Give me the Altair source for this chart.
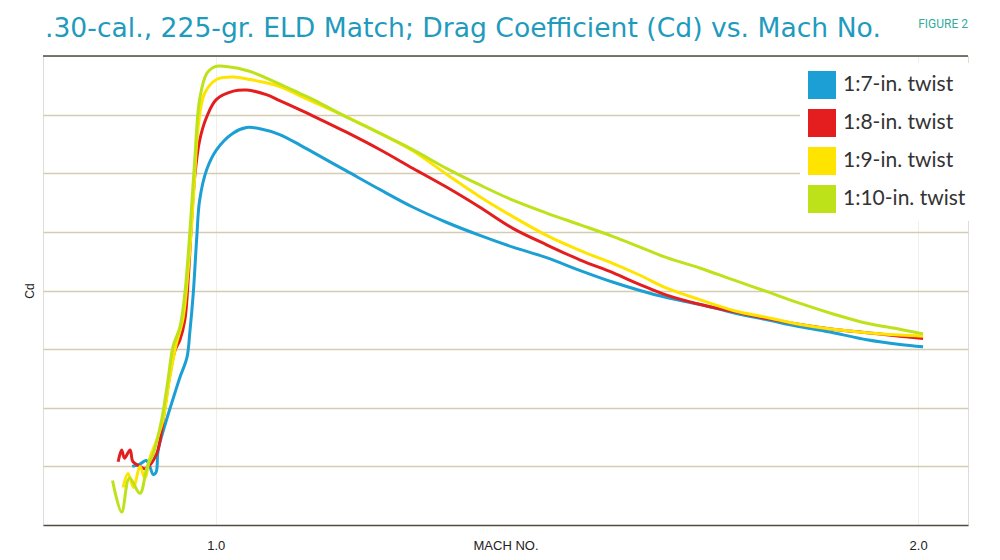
import altair as alt
import pandas as pd

TITLE = ".30-cal., 225-gr. ELD Match; Drag Coefficient (Cd) vs. Mach No."
FIGURE = "FIGURE 2"

SERIES = ["1:7-in. twist", "1:8-in. twist", "1:9-in. twist", "1:10-in. twist"]
COLORS = ["#1b9fd4", "#e41e1e", "#ffe400", "#bde21a"]

MACH_7 = [0.881, 0.892, 0.901, 0.906, 0.911, 0.915, 0.918, 0.930, 0.942, 0.949, 0.959, 0.963, 0.968, 0.973,
          0.977, 0.987, 1.001, 1.024, 1.044, 1.063, 1.091, 1.120, 1.138, 1.186, 1.234, 1.281, 1.329, 1.376,
          1.423, 1.471, 1.519, 1.566, 1.604, 1.642, 1.690, 1.737, 1.785, 1.832, 1.879, 1.927, 1.974, 2.007]
CD_7 = [0.150, 0.152, 0.155, 0.150, 0.143, 0.145, 0.164, 0.190, 0.213, 0.226, 0.243, 0.264, 0.298, 0.346,
        0.377, 0.403, 0.420, 0.434, 0.439, 0.438, 0.433, 0.424, 0.418, 0.402, 0.386, 0.371, 0.358, 0.347,
        0.337, 0.328, 0.317, 0.307, 0.300, 0.294, 0.288, 0.281, 0.275, 0.269, 0.264, 0.258, 0.254, 0.252]

MACH_8 = [0.861, 0.866, 0.870, 0.878, 0.882, 0.892, 0.899, 0.906, 0.916, 0.920, 0.927, 0.934, 0.942, 0.949,
          0.956, 0.961, 0.965, 0.970, 0.977, 0.987, 1.001, 1.025, 1.044, 1.072, 1.091, 1.120, 1.138, 1.186,
          1.234, 1.281, 1.329, 1.376, 1.423, 1.471, 1.519, 1.566, 1.604, 1.642, 1.690, 1.737, 1.785, 1.832,
          1.879, 1.927, 1.974, 2.007]
CD_8 = [0.154, 0.164, 0.157, 0.164, 0.154, 0.150, 0.148, 0.151, 0.161, 0.170, 0.198, 0.226, 0.249, 0.258,
        0.275, 0.312, 0.354, 0.397, 0.428, 0.448, 0.463, 0.470, 0.471, 0.467, 0.462, 0.454, 0.449, 0.435,
        0.420, 0.404, 0.388, 0.371, 0.353, 0.339, 0.326, 0.315, 0.305, 0.296, 0.288, 0.282, 0.276, 0.271,
        0.267, 0.264, 0.261, 0.259]

MACH_9 = [0.868, 0.875, 0.883, 0.892, 0.899, 0.906, 0.915, 0.925, 0.934, 0.944, 0.953, 0.961, 0.968, 0.975,
          0.984, 1.001, 1.025, 1.048, 1.091, 1.120, 1.138, 1.186, 1.234, 1.281, 1.329, 1.376, 1.423, 1.471,
          1.519, 1.566, 1.604, 1.642, 1.690, 1.737, 1.785, 1.832, 1.879, 1.927, 1.974, 2.007]
CD_9 = [0.132, 0.144, 0.132, 0.150, 0.140, 0.157, 0.171, 0.190, 0.224, 0.255, 0.275, 0.320, 0.377, 0.440,
        0.468, 0.480, 0.482, 0.480, 0.474, 0.466, 0.461, 0.448, 0.434, 0.419, 0.399, 0.380, 0.363, 0.347,
        0.334, 0.323, 0.313, 0.302, 0.292, 0.283, 0.277, 0.271, 0.267, 0.264, 0.262, 0.261]

MACH_10 = [0.853, 0.866, 0.877, 0.892, 0.902, 0.911, 0.923, 0.932, 0.939, 0.949, 0.956, 0.963, 0.970, 0.977,
           0.987, 0.999, 1.015, 1.048, 1.091, 1.120, 1.138, 1.186, 1.234, 1.281, 1.329, 1.376, 1.423, 1.471,
           1.519, 1.566, 1.604, 1.642, 1.690, 1.737, 1.785, 1.832, 1.879, 1.927, 1.974, 2.007]
CD_10 = [0.138, 0.111, 0.140, 0.127, 0.149, 0.161, 0.190, 0.224, 0.252, 0.269, 0.298, 0.349, 0.411, 0.463,
         0.485, 0.491, 0.491, 0.487, 0.476, 0.468, 0.463, 0.448, 0.434, 0.420, 0.404, 0.390, 0.377, 0.366,
         0.356, 0.346, 0.337, 0.328, 0.319, 0.309, 0.299, 0.289, 0.280, 0.272, 0.267, 0.263]

X_TICKS = [1.0, 2.0]
Y_GRID = [0.15, 0.20, 0.25, 0.30, 0.35, 0.40, 0.45]
Y_DOMAIN = [0.1, 0.5]
X_DOMAIN = [0.754, 2.071]

rows = []
for name, xs, ys in zip(SERIES, [MACH_7, MACH_8, MACH_9, MACH_10], [CD_7, CD_8, CD_9, CD_10]):
    for i, (m, c) in enumerate(zip(xs, ys)):
        rows.append({"series": name, "mach": m, "cd": c, "i": i})
df = pd.DataFrame(rows)

W, H = 925, 469

color_scale = alt.Scale(domain=SERIES, range=COLORS)

x_enc = alt.X("mach:Q", scale=alt.Scale(domain=X_DOMAIN, nice=False, zero=False),
              axis=alt.Axis(values=X_TICKS, format=".1f", title="MACH NO.", ticks=False,
                            domain=True, domainColor="#4f4b40", domainWidth=1.5,
                            grid=True, gridColor="#f0efe9", gridWidth=1,
                            labelPadding=14, labelFontSize=13, labelFont="Liberation Sans",
                            labelColor="#222222", titleFontSize=13, titleFont="Liberation Sans",
                            titleFontWeight="normal", titleColor="#222222",
                            titleY=14, titleBaseline="top"))
y_enc = alt.Y("cd:Q", scale=alt.Scale(domain=Y_DOMAIN, nice=False, zero=False),
              axis=alt.Axis(values=Y_GRID, labels=False, ticks=False, domain=False,
                            grid=True, gridColor="#d4ccae", gridWidth=1.5,
                            title="Cd", titleFontSize=12, titleFont="Liberation Sans",
                            titleFontWeight="normal", titleColor="#222222",
                            titleX=-7, titleY=H / 2, titleAngle=270))

lines = alt.Chart(df).mark_line(strokeWidth=3, interpolate="catmull-rom").encode(
    x=x_enc,
    y=y_enc,
    order="i:Q",
    color=alt.Color("series:N", scale=color_scale, legend=None),
)

legend_layer = alt.Chart(pd.DataFrame({"series": SERIES})).mark_square(opacity=0, size=1).encode(
    color=alt.Color("series:N", scale=color_scale,
                    legend=alt.Legend(title=None, orient="none", legendX=757, legendY=7,
                                      symbolType="square", symbolSize=784, symbolStrokeWidth=0,
                                      symbolOpacity=1, labelFontSize=21, labelFont="Lato",
                                      labelColor="#333333", labelOffset=7, labelLimit=0,
                                      rowPadding=10, padding=8, fillColor="white")),
)

top = alt.Chart(pd.DataFrame({"y": [Y_DOMAIN[1]]})).mark_rule(color="#4f4b40", strokeWidth=1.5).encode(
    y=alt.Y("y:Q", scale=alt.Scale(domain=Y_DOMAIN, nice=False, zero=False))
)

title = alt.Chart(pd.DataFrame({"t": [TITLE]})).mark_text(
    align="left", baseline="alphabetic", font="DejaVu Sans", fontSize=26.6, color="#1f9bbd"
).encode(text="t:N", x=alt.value(2), y=alt.value(-19))

fig = alt.Chart(pd.DataFrame({"t": [FIGURE]})).mark_text(
    align="right", baseline="alphabetic", font="Roboto", fontSize=12, color="#35ab9c"
).encode(text="t:N", x=alt.value(W), y=alt.value(-28))

chart = alt.layer(top, lines, legend_layer, title, fig).resolve_legend(color="independent").properties(
    width=W, height=H,
    autosize=alt.AutoSizeParams(type="none"),
    padding={"left": 35, "top": 48, "right": 24, "bottom": 35},
).configure_view(stroke=None).configure(background="white")

chart.save("out.html", embed_options={"renderer": "svg", "actions": False})
